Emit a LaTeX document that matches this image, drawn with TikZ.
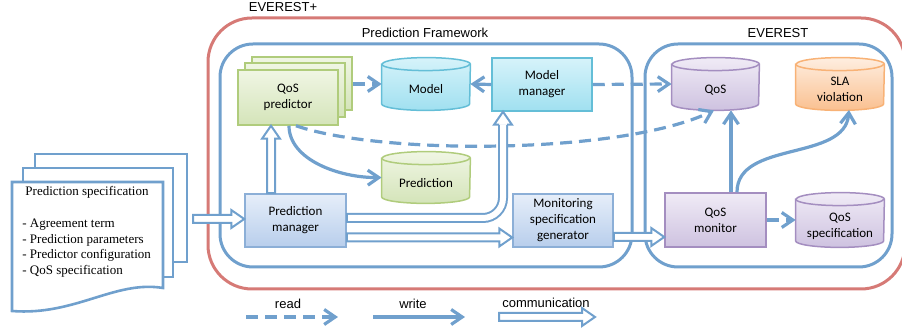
\documentclass[tikz,border=0pt]{standalone}
\usepackage{fontspec}
\setmainfont{Liberation Serif}
\newfontfamily\boxfont{Carlito}
\newfontfamily\labfont{Liberation Sans}
\usetikzlibrary{arrows.meta,calc}
\pgfdeclarelayer{bg}
\pgfsetlayers{bg,main}
\definecolor{lineblue}{RGB}{112,160,205}
\definecolor{redline}{RGB}{214,122,118}
\definecolor{gtop}{RGB}{240,246,228}
\definecolor{gbot}{RGB}{212,228,185}
\definecolor{gbord}{RGB}{176,204,124}
\definecolor{ctop}{RGB}{214,243,250}
\definecolor{cbot}{RGB}{160,224,240}
\definecolor{cbord}{RGB}{100,190,215}
\definecolor{btop}{RGB}{230,238,249}
\definecolor{bbot}{RGB}{184,206,236}
\definecolor{bbord}{RGB}{140,175,215}
\definecolor{ptop}{RGB}{240,235,246}
\definecolor{pbot}{RGB}{206,194,224}
\definecolor{pbord}{RGB}{164,142,192}
\definecolor{otop}{RGB}{254,238,224}
\definecolor{obot}{RGB}{250,192,144}
\definecolor{obord}{RGB}{248,178,118}
% cylinder outline drawn behind a named node
\newcommand{\cylshape}[5]{%
 \begin{pgfonlayer}{bg}
 \shade[top color=#2,bottom color=#3,draw=#4,line width=0.75pt]
   ([yshift=-3.25pt]#1.north west) -- ([yshift=3.25pt]#1.south west)
   arc[start angle=180,end angle=360,x radius=#5,y radius=3.25pt]
   -- ([yshift=-3.25pt]#1.north east)
   arc[start angle=0,end angle=180,x radius=#5,y radius=3.25pt] -- cycle;
 \draw[draw=#4,line width=0.75pt] ([yshift=-3.25pt]#1.north west)
   arc[start angle=180,end angle=360,x radius=#5,y radius=3.25pt];
 \end{pgfonlayer}}
% hollow communication arrows
\newcommand{\commR}[2]{\draw[comm] ($(#1)+(0pt,2pt)$) -- ($(#2)+(-6.5pt,2pt)$) -- ($(#2)+(-6.5pt,4.5pt)$) -- (#2) -- ($(#2)+(-6.5pt,-4.5pt)$) -- ($(#2)+(-6.5pt,-2pt)$) -- ($(#1)+(0pt,-2pt)$) -- cycle;}
\newcommand{\commU}[2]{\draw[comm] ($(#1)+(-2pt,0pt)$) -- ($(#2)+(-2pt,-6.5pt)$) -- ($(#2)+(-4.5pt,-6.5pt)$) -- (#2) -- ($(#2)+(4.5pt,-6.5pt)$) -- ($(#2)+(2pt,-6.5pt)$) -- ($(#1)+(2pt,0pt)$) -- cycle;}
\newcommand{\commUhead}[1]{\fill[white] ($(#1)+(-2pt,-6.5pt)$) -- ($(#1)+(-4.5pt,-6.5pt)$) -- (#1) -- ($(#1)+(4.5pt,-6.5pt)$) -- ($(#1)+(2pt,-6.5pt)$) -- cycle;
 \draw[draw=lineblue,line width=1pt] ($(#1)+(-2pt,-6.5pt)$) -- ($(#1)+(-4.5pt,-6.5pt)$) -- (#1) -- ($(#1)+(4.5pt,-6.5pt)$) -- ($(#1)+(2pt,-6.5pt)$);}
\newcommand{\ctext}[1]{\raisebox{-3.2pt}[\height][\depth]{\begin{tabular}{@{}c@{}}#1\end{tabular}}}

\begin{document}
\begin{tikzpicture}[x=0.5pt,y=-0.5pt,
  >={Straight Barb[length=5.5pt,width=7.5pt]},
  wline/.style={draw=lineblue,line width=1.6pt,->},
  rline/.style={wline,dash pattern=on 6pt off 3.5pt},
  comm/.style={draw=lineblue,line width=1pt,fill=white},
  commsh/.style={draw=lineblue,line width=1pt,double=white,double distance=3pt},
  cont/.style={draw=lineblue,line width=1.5pt,rounded corners=16.5pt},
  redc/.style={draw=redline,line width=1.5pt,rounded corners=22pt},
  docpg/.style={draw=lineblue,line width=1.3pt,fill=white},
  box/.style={rectangle,line width=0.75pt,inner sep=1pt,align=center,font=\boxfont\fontsize{6.5}{8}\selectfont},
  boxg/.style={box,draw=gbord,top color=gtop,bottom color=gbot},
  boxc/.style={box,draw=cbord,top color=ctop,bottom color=cbot},
  boxb/.style={box,draw=bbord,top color=btop,bottom color=bbot},
  boxp/.style={box,draw=pbord,top color=ptop,bottom color=pbot},
  cylnode/.style={rectangle,inner sep=0pt,align=center,font=\boxfont\fontsize{6.5}{8}\selectfont},
  lab/.style={inner sep=0pt,font=\labfont\fontsize{6.5}{8}\selectfont},
  doctext/.style={inner sep=0pt,font=\fontsize{6.5}{7.7}\selectfont}]
\useasboundingbox (0,0) rectangle (902,335);

% containers
\draw[redc] (208,18) rectangle (905,289);
\draw[cont] (220,44) rectangle (632,267);
\draw[cont] (645,44) rectangle (892,267);
\node[lab] (lplus) at (283,7) {EVEREST+};
\node[lab] (lpf) at (425,33) {Prediction Framework};
\node[lab] (lev) at (778,33) {EVEREST};

% document stack
\draw[docpg] (35,154) rectangle (187,262);
\draw[docpg] (23,168) rectangle (173,277);
\draw[docpg] (12,182) -- (163,182) -- (163,288) .. controls (115,280) and (75,316) .. (12,311) -- cycle;
\node[doctext] (dtitle) at (87,192) {Prediction specification};
\node[doctext,align=left,anchor=north west] (dlist) at (22,219) {- Agreement term\\- Prediction parameters\\- Predictor configuration\\- QoS specification};

% QoS predictor stack
\shade[draw=gbord,top color=gtop,bottom color=gbot,line width=0.75pt] (252,57) rectangle (352,110);
\shade[draw=gbord,top color=gtop,bottom color=gbot,line width=0.75pt] (245,63) rectangle (345,117);
\node[boxg,minimum width=50pt,minimum height=27.5pt] (qp) at (288,97.5) {QoS\\predictor};

% boxes
\node[boxb,minimum width=50.5pt,minimum height=26.5pt] (pm) at (295.5,220.5) {Prediction\\manager};
\node[boxb,minimum width=50pt,minimum height=26.5pt] (msg) at (563,220.5) {Monitoring\\specification\\generator};
\node[boxc,minimum width=50pt,minimum height=26.5pt] (mm) at (542,84.5) {Model\\manager};
\node[boxp,minimum width=50.5pt,minimum height=27pt] (qm) at (715.5,220) {QoS\\monitor};

% cylinders
\node[cylnode,minimum width=44pt,minimum height=26pt] (model) at (426,84) {\ctext{Model}};
\node[cylnode,minimum width=44pt,minimum height=25.5pt] (pred) at (426,177.5) {\ctext{Prediction}};
\node[cylnode,minimum width=43.5pt,minimum height=26pt] (qos) at (715.5,84) {\ctext{QoS}};
\node[cylnode,minimum width=44pt,minimum height=26pt] (sla) at (840,84) {\ctext{SLA\\violation}};
\node[cylnode,minimum width=44pt,minimum height=27pt] (qspec) at (840,220) {\ctext{QoS\\specification}};
\cylshape{model}{ctop}{cbot}{cbord}{22pt}
\cylshape{pred}{gtop}{gbot}{gbord}{22pt}
\cylshape{qos}{ptop}{pbot}{pbord}{21.75pt}
\cylshape{sla}{otop}{obot}{obord}{22pt}
\cylshape{qspec}{ptop}{pbot}{pbord}{22pt}

% read / write connectors
\coordinate (qpr) at (353,84);
\draw[rline] (qpr) -- (model.west);
\draw[wline] (mm.west) -- (model.east);
\draw[rline] (mm.east) -- (qos.west);
\draw[wline] (289,0 |- qp.south) .. controls (289,160) and (340,178) .. (pred.west);
\draw[rline] (296,0 |- qp.south) .. controls (380,155) and (620,155) .. (714,0 |- qos.south);
\draw[wline] (731,0 |- qm.north) -- (731,0 |- qos.south);
\coordinate (slain) at (849,110);
\draw[wline] (737,0 |- qm.north) .. controls (737,140) and (845,162) .. (slain);
\draw[rline] (qm.east) -- (qspec.west);

% communication connectors
\coordinate (docout) at (193,219);
\coordinate (pmin) at (pm.west |- 0,219);
\commR{docout}{pmin}
\coordinate (pmup) at (271,0 |- pm.north);
\coordinate (qpdn) at (271,0 |- qp.south);
\commU{pmup}{qpdn}
\coordinate (pmr2) at (pm.east |- 0,237.5);
\coordinate (msgin) at (msg.west |- 0,237.5);
\commR{pmr2}{msgin}
\coordinate (msgout) at (msg.east |- 0,237);
\coordinate (qmin) at (qm.west |- 0,237);
\commR{msgout}{qmin}
\coordinate (pmr) at (pm.east |- 0,218);
\coordinate (mmin) at (503,0 |- mm.south);
\draw[commsh,rounded corners=10pt] (pmr) -- (503,218) -- ($(mmin)+(0pt,-6.5pt)$);
\draw[draw=lineblue,line width=1pt] ($(pmr)+(0pt,2.5pt)$) -- ($(pmr)+(0pt,-2.5pt)$);
\commUhead{mmin}

% legend
\node[lab] (lread) at (288,304) {read};
\node[lab] (lwrite) at (413,304) {write};
\node[lab] (lcomm) at (546,303) {communication};
\coordinate (r1) at (246,317);
\coordinate (r2) at (338,317);
\coordinate (w1) at (373,317);
\coordinate (w2) at (465,317);
\coordinate (k1) at (499,317);
\coordinate (k2) at (595,317);
\draw[rline] (r1) -- (r2);
\draw[wline] (w1) -- (w2);
\commR{k1}{k2}
\end{tikzpicture}
\end{document}
